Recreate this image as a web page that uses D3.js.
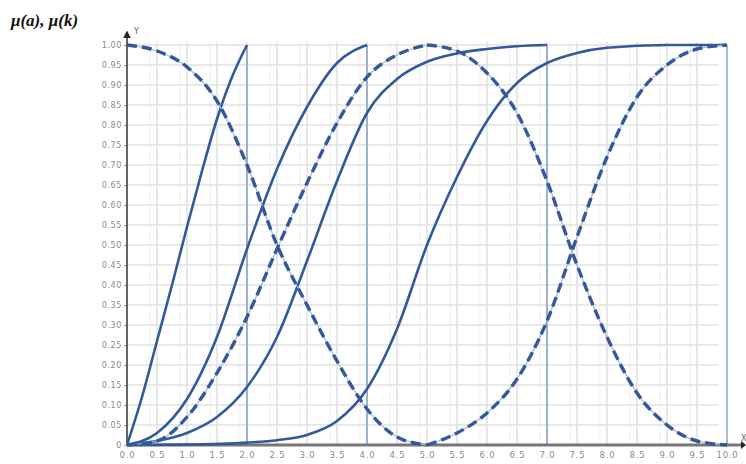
<!DOCTYPE html>
<html><head><meta charset="utf-8">
<script src="https://cdn.jsdelivr.net/npm/d3@7"></script>
<style>html,body{margin:0;padding:0;background:#fff;}svg{display:block;}</style>
</head><body>
<svg id="chart" width="746" height="464"></svg>
<script>
// ---- data ----
const xTickValues = [0,0.5,1,1.5,2,2.5,3,3.5,4,4.5,5,5.5,6,6.5,7,7.5,8,8.5,9,9.5,10];
const xTickLabels = ["0.0","0.5","1.0","1.5","2.0","2.5","3.0","3.5","4.0","4.5","5.0","5.5","6.0","6.5","7.0","7.5","8.0","8.5","9.0","9.5","10.0"];
const yTickValues = [0,0.05,0.1,0.15,0.2,0.25,0.3,0.35,0.4,0.45,0.5,0.55,0.6,0.65,0.7,0.75,0.8,0.85,0.9,0.95,1.0];
const yTickLabels = ["0","0.05","0.10","0.15","0.20","0.25","0.30","0.35","0.40","0.45","0.50","0.55","0.60","0.65","0.70","0.75","0.80","0.85","0.90","0.95","1.00"];
const boundaries = [2, 4, 7, 10];

const solidAx = [0,0.25,0.5,0.75,1,1.25,1.5,1.75,2];
const solidAy = [0,0.12,0.26,0.40,0.545,0.685,0.815,0.92,1.0];
const solidBx = [0,0.5,1,1.5,2,2.5,3,3.5,4];
const solidBy = [0,0.03,0.115,0.27,0.49,0.69,0.845,0.955,1.0];
const solidCx = [0,0.5,1,1.5,2,2.5,3,3.5,4,4.5,5,5.5,6,6.5,7];
const solidCy = [0,0.01,0.03,0.07,0.145,0.27,0.46,0.66,0.83,0.915,0.958,0.979,0.99,0.997,1.0];
const solidDx = [0,1,2,2.5,3,3.5,4,4.5,5,5.5,6,6.5,7,7.5,8,9,10];
const solidDy = [0,0.001,0.006,0.012,0.025,0.06,0.14,0.29,0.5,0.67,0.81,0.905,0.955,0.98,0.993,1,1];

const dashLeftX = [0,0.5,1,1.5,2,2.5,3,3.5,4,4.5,5];
const dash1y = [1.0,0.985,0.945,0.86,0.70,0.50,0.35,0.21,0.09,0.02,0.0];
const dash2y = [0,0.01,0.07,0.18,0.32,0.49,0.655,0.805,0.92,0.975,1.0];
const dashRightX = [5,5.5,6,6.5,7,7.5,8,8.5,9,9.5,10];
const dash3y = [1.0,0.985,0.93,0.83,0.66,0.45,0.27,0.13,0.05,0.01,0.0];
const dash4y = [0,0.03,0.08,0.165,0.31,0.52,0.72,0.87,0.95,0.99,1.0];

// ---- chart ----
const svg = d3.select("#chart");
const x = d3.scaleLinear().domain([0,10]).range([127,727]);
const y = d3.scaleLinear().domain([0,1]).range([445,45]);
const gridRight = 719;

const zip = (xs, ys) => xs.map((v,i)=>[v, ys[i]]);

// grid
const g = svg.append("g");
g.selectAll("line.vg").data(xTickValues.filter(v=>v>0 && v<10)).enter().append("line")
  .attr("x1",d=>x(d)).attr("x2",d=>x(d)).attr("y1",y(1)-3).attr("y2",y(0))
  .attr("stroke","#e2e2e2").attr("stroke-width",1.6);
g.selectAll("line.vg2").data(xTickValues.filter(v=>v>0 && v<10)).enter().append("line")
  .attr("x1",d=>x(d)-7).attr("x2",d=>x(d)-7).attr("y1",y(1)-3).attr("y2",y(0))
  .attr("stroke","#f0f0f0").attr("stroke-width",1);
g.selectAll("line.hg").data(yTickValues.filter(v=>v>0)).enter().append("line")
  .attr("x1",x(0)).attr("x2",gridRight).attr("y1",d=>y(d)).attr("y2",d=>y(d))
  .attr("stroke","#e2e2e2").attr("stroke-width",1.6);

// boundary verticals
g.selectAll("line.bd").data(boundaries).enter().append("line")
  .attr("x1",d=>x(d)).attr("x2",d=>x(d)).attr("y1",y(1)).attr("y2",y(0))
  .attr("stroke","#7393c6").attr("stroke-width",1.3);

// axes
const yAxis = d3.axisLeft(y).tickValues(yTickValues).tickFormat((d,i)=>yTickLabels[i]).tickSize(3).tickPadding(2);
const yg = svg.append("g").attr("transform",`translate(${x(0)},0)`).call(yAxis);
yg.select(".domain").remove();
yg.selectAll("text").attr("fill","#8a8a8a").style("font-family","DejaVu Sans, sans-serif").style("font-size","8px").attr("letter-spacing","0.6");
yg.selectAll(".tick line").attr("stroke","#999");

const xAxis = d3.axisBottom(x).tickValues(xTickValues).tickFormat((d,i)=>xTickLabels[i]).tickSize(0).tickPadding(7);
const xg = svg.append("g").attr("transform",`translate(0,${y(0)})`).call(xAxis);
xg.select(".domain").remove();
xg.selectAll("text").attr("fill","#8a8a8a").style("font-family","DejaVu Sans, sans-serif").style("font-size","8.5px").attr("letter-spacing","0.8");

// axis lines with arrows
svg.append("defs").append("marker").attr("id","arr").attr("viewBox","0 0 10 10")
  .attr("refX",8).attr("refY",5).attr("markerWidth",5).attr("markerHeight",5).attr("orient","auto")
  .append("path").attr("d","M0,0 L10,5 L0,10 z").attr("fill","#222");
svg.append("line").attr("x1",x(0)).attr("x2",741).attr("y1",y(0)).attr("y2",y(0))
  .attr("stroke","#777").attr("stroke-width",3);
svg.append("path").attr("d",`M${741},${y(0)-4} L${746},${y(0)} L${741},${y(0)+4} z`).attr("fill","#222");
svg.append("line").attr("x1",x(0)).attr("x2",x(0)).attr("y1",y(0)).attr("y2",32)
  .attr("stroke","#333").attr("stroke-width",1.5).attr("marker-end","url(#arr)");
svg.append("text").attr("x",x(0)+7).attr("y",34).text("Y")
  .attr("fill","#666").style("font-family","DejaVu Sans, sans-serif").style("font-size","8px");
svg.append("text").attr("x",741).attr("y",441).text("X")
  .attr("fill","#666").style("font-family","DejaVu Sans, sans-serif").style("font-size","8px");

// title
svg.append("text").attr("x",11).attr("y",26).text("μ(a), μ(k)")
  .attr("fill","#111").style("font-family","Liberation Serif, serif").style("font-size","17px")
  .style("font-weight","bold").style("font-style","italic");

// curves
const line = d3.line().x(d=>x(d[0])).y(d=>y(d[1])).curve(d3.curveMonotoneX);
const blue = "#34599b";
[[solidAx,solidAy],[solidBx,solidBy],[solidCx,solidCy],[solidDx,solidDy]].forEach(([xs,ys])=>{
  svg.append("path").datum(zip(xs,ys)).attr("d",line)
    .attr("fill","none").attr("stroke",blue).attr("stroke-width",2.6);
});
[[dashLeftX,dash1y],[dashLeftX,dash2y],[dashRightX,dash3y],[dashRightX,dash4y]].forEach(([xs,ys])=>{
  svg.append("path").datum(zip(xs,ys)).attr("d",line)
    .attr("fill","none").attr("stroke","#9fb3d6").attr("stroke-width",1.2);
  svg.append("path").datum(zip(xs,ys)).attr("d",line)
    .attr("fill","none").attr("stroke",blue).attr("stroke-width",3.4).attr("stroke-dasharray","10,5");
});
</script>
</body></html>
